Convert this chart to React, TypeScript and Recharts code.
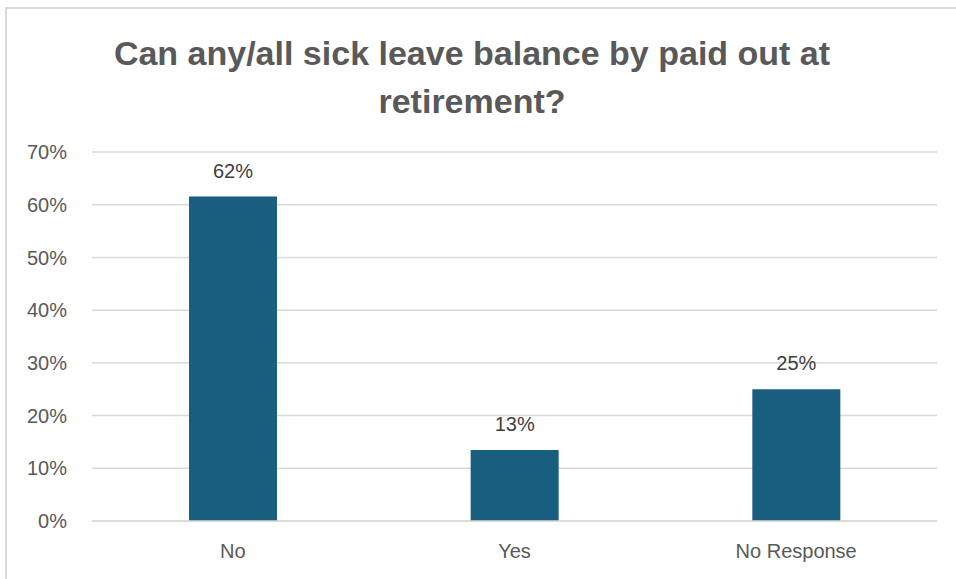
import { BarChart, Bar, XAxis, YAxis, CartesianGrid, LabelList } from "recharts";

const categories = ["No", "Yes", "No Response"];
const shares = [61.54, 13.46, 25.0];
const yTicks = [0, 10, 20, 30, 40, 50, 60, 70];

const data = categories.map((name, i) => ({ name, value: shares[i] }));

const FONT = '"Liberation Sans", Arial, sans-serif';

export default function App() {
  return (
    <div
      style={{
        position: "absolute",
        left: 0,
        top: 0,
        width: 956,
        height: 579,
        background: "#fff",
        overflow: "hidden",
        fontFamily: FONT,
      }}
    >
      {/* chart frame, only the left and top edges are in view */}
      <div
        style={{
          position: "absolute",
          left: 5,
          top: 7,
          width: 1000,
          height: 600,
          borderLeft: "2px solid #d9d9d9",
          borderTop: "2px solid #d9d9d9",
        }}
      />
      <div
        style={{
          position: "absolute",
          left: 0,
          top: 29,
          width: 944,
          textAlign: "center",
          fontSize: 34,
          lineHeight: "48px",
          fontWeight: 700,
          color: "#595959",
        }}
      >
        Can any/all sick leave balance by paid out at
        <br />
        retirement?
      </div>
      <div style={{ position: "absolute", left: 0, top: 0 }}>
        <BarChart
          width={956}
          height={579}
          data={data}
          margin={{ top: 152, right: 19, bottom: 28, left: 32 }}
        >
          <CartesianGrid vertical={false} stroke="#d9d9d9" strokeWidth={1.5} />
          <XAxis
            dataKey="name"
            height={30}
            axisLine={{ stroke: "#d9d9d9", strokeWidth: 1.5 }}
            tickLine={false}
            tickSize={0}
            tickMargin={23}
            tick={{ fill: "#595959", fontSize: 20, fontFamily: FONT }}
          />
          <YAxis
            width={60}
            domain={[0, 70]}
            ticks={yTicks}
            interval={0}
            axisLine={false}
            tickLine={false}
            tickSize={0}
            tickMargin={25}
            tickFormatter={(v: number) => `${v}%`}
            tick={{ fill: "#595959", fontSize: 20, fontFamily: FONT }}
          />
          <Bar dataKey="value" fill="#185f7f" barSize={88} isAnimationActive={false}>
            <LabelList
              dataKey="value"
              position="top"
              offset={19}
              formatter={(v: number) => `${Math.round(v)}%`}
              style={{ fill: "#404040", fontSize: 20, fontFamily: FONT }}
            />
          </Bar>
        </BarChart>
      </div>
    </div>
  );
}
